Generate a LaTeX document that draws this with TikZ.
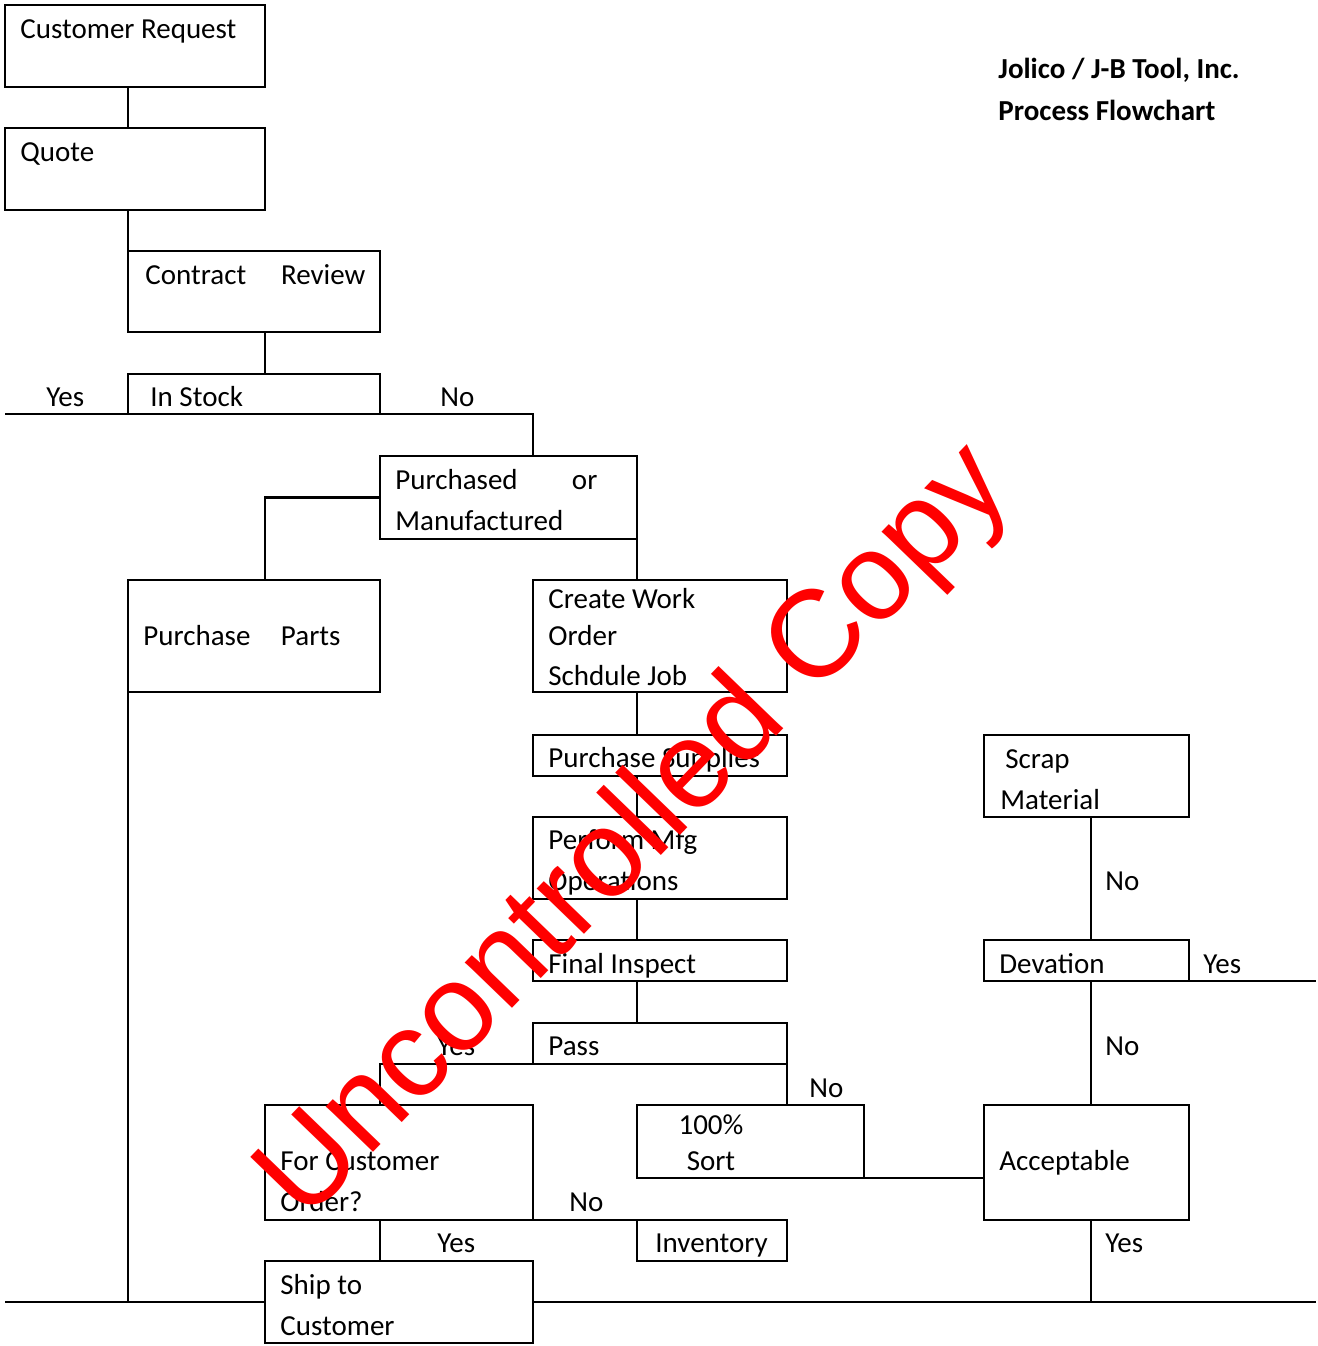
\documentclass[tikz,border=0pt]{standalone}
\usepackage{fontspec}
\setmainfont{Carlito}
\newfontfamily\markfont{Liberation Sans}
\usepackage{tikz}
\usetikzlibrary{fit,positioning}
\definecolor{jbred}{RGB}{255,0,0}
\tikzset{
    jbbox/.style={draw, line width=1.1pt, inner sep=0pt, outer sep=0pt},
    jbline/.style={line width=1.1pt},
    jbtext/.style={inner sep=0pt, anchor=base west, align=left},
    jblabel/.style={inner sep=0pt, anchor=base west}
}

\begin{document}
\begin{tikzpicture}[x=0.5pt, y=-0.5pt, font=\fontsize{14.5}{20.5}\selectfont]
        \fill[white] (0,0) rectangle (1318,1346);

        \node[jbbox, fit={(5,5) (265,87)}] (request) {};
        \node[jbbox, fit={(5,128) (265,210)}] (quote) {};
        \node[jbbox, fit={(128,251) (380,332)}] (contract) {};
        \node[jbbox, fit={(128,374) (380,414)}] (stock) {};
        \node[jbbox, fit={(380,456) (637,539)}] (purchased) {};
        \node[jbbox, fit={(128,580) (380,692)}] (parts) {};
        \node[jbbox, fit={(533,580) (787,692)}] (workorder) {};
        \node[jbbox, fit={(533,735) (787,776)}] (supplies) {};
        \node[jbbox, fit={(533,817) (787,899)}] (mfgops) {};
        \node[jbbox, fit={(533,940) (787,981)}] (inspect) {};
        \node[jbbox, fit={(533,1023) (787,1064)}] (pass) {};
        \node[jbbox, fit={(637,1105) (864,1178)}] (sort) {};
        \node[jbbox, fit={(265,1105) (533,1220)}] (custorder) {};
        \node[jbbox, fit={(637,1220) (787,1261)}] (inventory) {};
        \node[jbbox, fit={(265,1261) (533,1343)}] (ship) {};
        \node[jbbox, fit={(984,735) (1189,817)}] (scrap) {};
        \node[jbbox, fit={(984,940) (1189,981)}] (deviation) {};
        \node[jbbox, fit={(984,1105) (1189,1220)}] (acceptable) {};
        \coordinate (rightend) at (1316,981);

        \node[jbtext] (requesttext) at (20,38) {Customer Request};
        \node[jbtext] (quotetext) at (20,161) {Quote};
        \node[jbtext] (contracttext) at (145,284)
            {\makebox[110pt]{Contract\hfill Review}};
        \node[jbtext] (stocktext) at (150,406) {In Stock};
        \node[jbtext] (purchasedtext) at (395,530)
            {\makebox[101pt]{Purchased\hfill or}\\Manufactured};
        \node[jbtext] (partstext) at (143,645)
            {\makebox[98.5pt]{Purchase\hfill Parts}};
        \node[jbtext] (workordertext) at (548,685)
            {Create Work\\[-2pt]Order\\[-0.5pt]Schdule Job};
        \node[jbtext] (suppliestext) at (548,767) {Purchase Supplies};
        \node[jbtext] (mfgopstext) at (548,890) {Perform Mfg\\Operations};
        \node[jbtext] (inspecttext) at (548,973) {Final Inspect};
        \node[jbtext] (passtext) at (548,1055) {Pass};
        \node[inner sep=0pt, anchor=base, align=center] (sorttext) at (711,1170)
            {100\%\\[-2.5pt]Sort};
        \node[jbtext] (custordertext) at (280,1211) {For Customer\\Order?};
        \node[jbtext] (inventorytext) at (655,1252) {Inventory};
        \node[jbtext] (shiptext) at (280,1335) {Ship to\\Customer};
        \node[jbtext] (scraptext) at (1000,809) {\hspace*{2.5pt}Scrap\\Material};
        \node[jbtext] (deviationtext) at (999,973) {Devation};
        \node[jbtext] (acceptabletext) at (999,1170) {Acceptable};

        \node[jbtext, font=\fontsize{14.5}{21}\selectfont\bfseries] (title) at (998,120)
            {Jolico / J-B Tool, Inc.\\Process Flowchart};

        \draw[jbline] (request.south -| contract.west) -- (quote.north -| contract.west);
        \draw[jbline] (quote.south -| contract.west) -- (contract.north west);
        \draw[jbline] (contract.south -| quote.east) -- (stock.north -| quote.east);
        \draw[jbline] (stock.south -| request.west) -- (stock.south -| workorder.west)
            -- (purchased.north -| workorder.west);
        \draw[jbline] (purchased.west) -- (purchased.west -| quote.east)
            -- (parts.north -| quote.east);
        \draw[jbline] (purchased.south east) -- (workorder.north -| purchased.east);
        \draw[jbline] (parts.south west) -- (parts.south west |- ship.west);
        \draw[jbline] (ship.west -| request.west) -- (ship.west);
        \draw[jbline] (ship.east) -- (ship.east -| rightend);
        \foreach \from/\to in {workorder/supplies, supplies/mfgops, mfgops/inspect, inspect/pass}
            \draw[jbline] (\from.south -| purchased.east) -- (\to.north -| purchased.east);
        \draw[jbline] (pass.south east) -- (pass.south -| stock.east)
            -- (custorder.north -| stock.east);
        \draw[jbline] (pass.south east) -- (sort.north -| pass.east);
        \draw[jbline] (sort.south east) -- (sort.south east -| acceptable.west);
        \draw[jbline] (custorder.south east) -- (inventory.north east);
        \draw[jbline] (custorder.south -| stock.east) -- (ship.north -| stock.east);
        \draw[jbline] ([xshift=2.25pt]scrap.south) -- ([xshift=2.25pt]deviation.north);
        \draw[jbline] ([xshift=2.25pt]deviation.south) -- ([xshift=2.25pt]acceptable.north);
        \draw[jbline] ([xshift=2.25pt]acceptable.south) -- ([xshift=2.25pt]acceptable.south |- ship.east);
        \draw[jbline] (deviation.south east) -- (deviation.south east -| rightend);

        \node[jblabel] (stockyes) at (46,406) {Yes};
        \node[jblabel] (stockno) at (440,406) {No};
        \node[jblabel] (passyes) at (437,1055) {Yes};
        \node[jblabel] (passno) at (809,1097) {No};
        \node[jblabel] (orderno) at (569,1211) {No};
        \node[jblabel] (orderyes) at (437,1252) {Yes};
        \node[jblabel] (scrapno) at (1105,890) {No};
        \node[jblabel] (deviationyes) at (1203,973) {Yes};
        \node[jblabel] (deviationno) at (1105,1055) {No};
        \node[jblabel] (acceptableyes) at (1105,1252) {Yes};

        \node[rotate=46, text=jbred, inner sep=0pt, font=\markfont\fontsize{62}{62}\selectfont]
            (watermark) at (637,834) {Uncontrolled Copy};
    \end{tikzpicture}
\end{document}
